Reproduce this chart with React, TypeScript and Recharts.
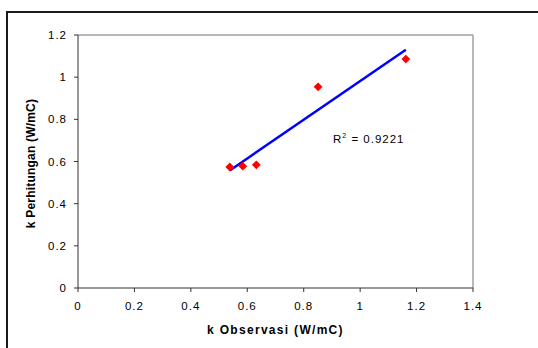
import React from "react";
import { ScatterChart, Scatter, XAxis, YAxis, ReferenceLine, Label } from "recharts";

const xObservasi = [0.538, 0.584, 0.632, 0.851, 1.162];
const kPerhitungan = [0.574, 0.578, 0.584, 0.954, 1.086];
const xTicks = [0, 0.2, 0.4, 0.6, 0.8, 1, 1.2, 1.4];
const yTicks = [0, 0.2, 0.4, 0.6, 0.8, 1, 1.2];
const xTitle = "k Observasi (W/mC)";
const yTitle = "k Perhitungan (W/mC)";
const r2Text = "0.9221";

const data = xObservasi.map((x, i) => ({ x, y: kPerhitungan[i] }));

// linear least squares trend line
const n = xObservasi.length;
const mx = xObservasi.reduce((a, b) => a + b, 0) / n;
const my = kPerhitungan.reduce((a, b) => a + b, 0) / n;
let sxy = 0;
let sxx = 0;
xObservasi.forEach((x, i) => {
  sxy += (x - mx) * (kPerhitungan[i] - my);
  sxx += (x - mx) * (x - mx);
});
const slope = sxy / sxx;
const intercept = my - slope * mx;
const xMin = Math.min(...xObservasi);
const xMax = Math.max(...xObservasi);
const trend = [
  { x: xMin, y: intercept + slope * xMin },
  { x: xMax, y: intercept + slope * xMax },
];

const FONT = '"Liberation Sans", Arial, sans-serif';

const Diamond = (props: any) => {
  const { cx, cy } = props;
  const h = 4.4;
  return (
    <polygon
      points={`${cx},${cy - h} ${cx + h},${cy} ${cx},${cy + h} ${cx - h},${cy}`}
      fill="#ff0000"
    />
  );
};

const XTitle = (props: any) => {
  const vb = props.viewBox;
  return (
    <text
      x={vb.x + vb.width / 2}
      y={334}
      textAnchor="middle"
      fontFamily={FONT}
      fontSize={12}
      fontWeight="bold"
      letterSpacing={1.3}
      fill="#000"
    >
      {xTitle}
    </text>
  );
};

const YTitle = (props: any) => {
  const vb = props.viewBox;
  const cx = 35;
  const cy = vb.y + vb.height / 2 + 2;
  return (
    <text
      x={cx}
      y={cy}
      transform={`rotate(-90, ${cx}, ${cy})`}
      textAnchor="middle"
      fontFamily={FONT}
      fontSize={12}
      fontWeight="bold"
      letterSpacing={0.2}
      fill="#000"
    >
      {yTitle}
    </text>
  );
};

const tickStyle = { fontFamily: FONT, fontSize: 11.5, fill: "#000", letterSpacing: 1 };

export default function App() {
  return (
    <div
      style={{
        position: "fixed",
        left: 0,
        top: 0,
        width: 538,
        height: 348,
        overflow: "hidden",
        background: "#fff",
      }}
    >
      <div
        style={{
          position: "absolute",
          left: 6,
          top: 11,
          width: 700,
          height: 500,
          borderTop: "2px solid #1a1a1a",
          borderLeft: "2px solid #1a1a1a",
        }}
      />
      <div style={{ position: "absolute", left: 0, top: 0 }}>
        <ScatterChart
          width={538}
          height={348}
          margin={{ top: 35, right: 65, bottom: 30, left: 0 }}
        >
          <XAxis
            type="number"
            dataKey="x"
            domain={[0, 1.4]}
            ticks={xTicks}
            interval={0}
            height={30}
            tickSize={4}
            tickMargin={10}
            tick={tickStyle}
            axisLine={{ stroke: "#333" }}
            tickLine={{ stroke: "#333" }}
            allowDataOverflow
          >
            <Label content={<XTitle />} />
          </XAxis>
          <YAxis
            type="number"
            dataKey="y"
            domain={[0, 1.2]}
            ticks={yTicks}
            interval={0}
            width={78}
            tickSize={4}
            tickMargin={7}
            tick={tickStyle}
            axisLine={{ stroke: "#333" }}
            tickLine={{ stroke: "#333" }}
            allowDataOverflow
          >
            <Label content={<YTitle />} />
          </YAxis>
          <ReferenceLine y={1.2} stroke="#a0a0a0" strokeWidth={1.5} />
          <ReferenceLine x={1.4} stroke="#a0a0a0" strokeWidth={1.5} />
          <ReferenceLine
            segment={trend}
            stroke="#0000ff"
            strokeWidth={2.5}
            ifOverflow="visible"
          />
          <Scatter data={data} shape={<Diamond />} isAnimationActive={false} />
        </ScatterChart>
      </div>
      <svg
        width={538}
        height={348}
        style={{ position: "absolute", left: 0, top: 0, pointerEvents: "none" }}
      >
        <text x={333} y={142.5} fontFamily={FONT} fontSize={11.5} letterSpacing={1} fill="#000">
          R
          <tspan fontSize={7} dy={-5}>2</tspan>
          <tspan dy={5}>{` = ${r2Text}`}</tspan>
        </text>
      </svg>
    </div>
  );
}
